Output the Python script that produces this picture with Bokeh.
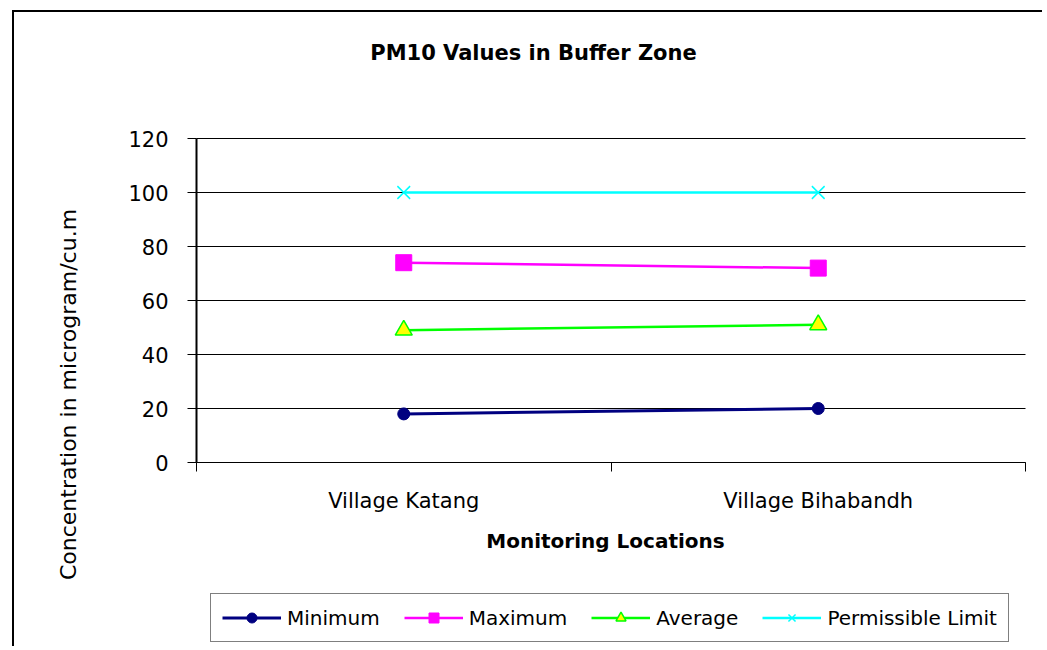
import math
from bokeh.plotting import figure
from bokeh.models import Range1d, FixedTicker, Legend, LegendItem, Label
from bokeh.embed import file_html
from bokeh.resources import INLINE

# ---- data ----
categories = ["Village Katang", "Village Bihabandh"]
minimum = [18, 20]
maximum = [74, 72]
average = [49, 51]
permissible = [100, 100]
y_ticks = [0, 20, 40, 60, 80, 100, 120]
y_max = 120

title_text = "PM10 Values in Buffer Zone"
x_title = "Monitoring Locations"
y_title = "Concentration in microgram/cu.m"

FONT = "DejaVu Sans"

n_cat = len(categories)
x_centers = [i + 0.5 for i in range(n_cat)]
x_bounds = [float(i) for i in range(n_cat + 1)]

# ---- geometry (canvas pixels) ----
W, H = 1030, 636
FRAME_L, FRAME_R = 182, 1011      # plot area left/right in canvas px
FRAME_T, FRAME_B = 126, 450       # plot area top (y_max) / bottom (0)
ux = (FRAME_R - FRAME_L) / n_cat
uy = (FRAME_B - FRAME_T) / y_max

def cx(px):  # canvas px -> data x
    return (px - FRAME_L) / ux

def cy(py):  # canvas px -> data y
    return (FRAME_B - py) / uy

# page offsets of the canvas (margin + border)
OX, OY = 14, 12

p = figure(width=W, height=H,
           x_range=Range1d(cx(0), cx(W)), y_range=Range1d(cy(H), cy(0)),
           output_backend="svg", toolbar_location=None, title=None,
           min_border_left=0, min_border_right=0,
           min_border_top=0, min_border_bottom=0)
p.outline_line_color = None
p.background_fill_color = "white"
p.border_fill_color = "white"
p.styles = {"border-left": "2px solid black", "border-top": "2px solid black",
            "margin-left": "12px", "margin-top": "10px"}

# x axis at y = 0
p.xaxis.fixed_location = 0
p.xaxis.bounds = (0, n_cat)
p.xaxis.ticker = FixedTicker(ticks=x_centers, minor_ticks=x_bounds)
p.xaxis.major_label_overrides = {x: c for x, c in zip(x_centers, categories)}
p.xaxis.major_tick_out = 0
p.xaxis.major_tick_in = 0
p.xaxis.minor_tick_out = 9
p.xaxis.minor_tick_in = 0
p.xaxis.minor_tick_line_color = "black"
p.xaxis.minor_tick_line_width = 1
p.xaxis.axis_line_color = "black"
p.xaxis.axis_line_width = 1
p.xaxis.major_label_standoff = 17
p.xaxis.major_label_text_font = FONT
p.xaxis.major_label_text_font_size = "21px"
p.xaxis.major_label_text_color = "black"

# y axis at x = 0
p.yaxis.fixed_location = 0
p.yaxis.bounds = (0, y_max)
p.yaxis.ticker = FixedTicker(ticks=y_ticks)
p.yaxis.major_tick_out = 9
p.yaxis.major_tick_in = 0
p.yaxis.minor_tick_line_color = None
p.yaxis.axis_line_color = "black"
p.yaxis.axis_line_width = 2
p.yaxis.major_tick_line_color = "black"
p.yaxis.major_label_standoff = 19
p.yaxis.major_label_text_font = FONT
p.yaxis.major_label_text_font_size = "21px"
p.yaxis.major_label_text_color = "black"

# grid
p.xgrid.grid_line_color = None
p.ygrid.grid_line_color = "black"
p.ygrid.grid_line_width = 1
p.ygrid.bounds = (0, y_max)
try:
    p.ygrid.cross_bounds = (0, n_cat)
except Exception:
    p.ygrid.grid_line_color = None
    p.segment(x0=[0] * len(y_ticks), y0=y_ticks, x1=[n_cat] * len(y_ticks), y1=y_ticks,
              line_color="black", line_width=1)

# series
r1l = p.line(x_centers, minimum, line_color="#000080", line_width=3)
r1m = p.scatter(x_centers, minimum, marker="circle", size=12,
                fill_color="#000080", line_color="#000080")
r2l = p.line(x_centers, maximum, line_color="#FF00FF", line_width=2.5)
r2m = p.scatter(x_centers, maximum, marker="square", size=16,
                fill_color="#FF00FF", line_color="#FF00FF")
r3l = p.line(x_centers, average, line_color="#00FF00", line_width=2.5)
r3m = p.scatter(x_centers, average, marker="triangle", size=17,
                fill_color="#FFFF00", line_color="#00FF00", line_width=1.5)
r4l = p.line(x_centers, permissible, line_color="#00FFFF", line_width=2.5)
r4m = p.scatter(x_centers, permissible, marker="x", size=18,
                line_color="#00FFFF", line_width=1.5)

legend = Legend(items=[
    LegendItem(label="Minimum", renderers=[r1l, r1m]),
    LegendItem(label="Maximum", renderers=[r2l, r2m]),
    LegendItem(label="Average", renderers=[r3l, r3m]),
    LegendItem(label="Permissible Limit", renderers=[r4l, r4m]),
], orientation="horizontal", location=(210 - OX, 6))
legend.label_text_font = FONT
legend.label_text_font_size = "20px"
legend.label_text_color = "black"
legend.glyph_width = 59
legend.glyph_height = 25
legend.label_standoff = 6
legend.spacing = 24
legend.padding = 11
legend.margin = 0
legend.border_line_color = "black"
legend.border_line_width = 1.5
legend.background_fill_alpha = 1
p.add_layout(legend, "center")

# texts
p.add_layout(Label(x=cx(533 - OX), y=cy(52 - OY), text=title_text,
                   text_font=FONT, text_font_size="21px", text_font_style="bold",
                   text_align="center", text_baseline="middle", text_color="black"))
p.add_layout(Label(x=cx(605 - OX), y=cy(540 - OY), text=x_title,
                   text_font=FONT, text_font_size="20px", text_font_style="bold",
                   text_align="center", text_baseline="middle", text_color="black"))
p.add_layout(Label(x=cx(68 - OX), y=cy(394 - OY), text=y_title, angle=math.pi / 2,
                   text_font=FONT, text_font_size="22px",
                   text_align="center", text_baseline="middle", text_color="black"))

open("out.html", "w").write(file_html(p, INLINE))
